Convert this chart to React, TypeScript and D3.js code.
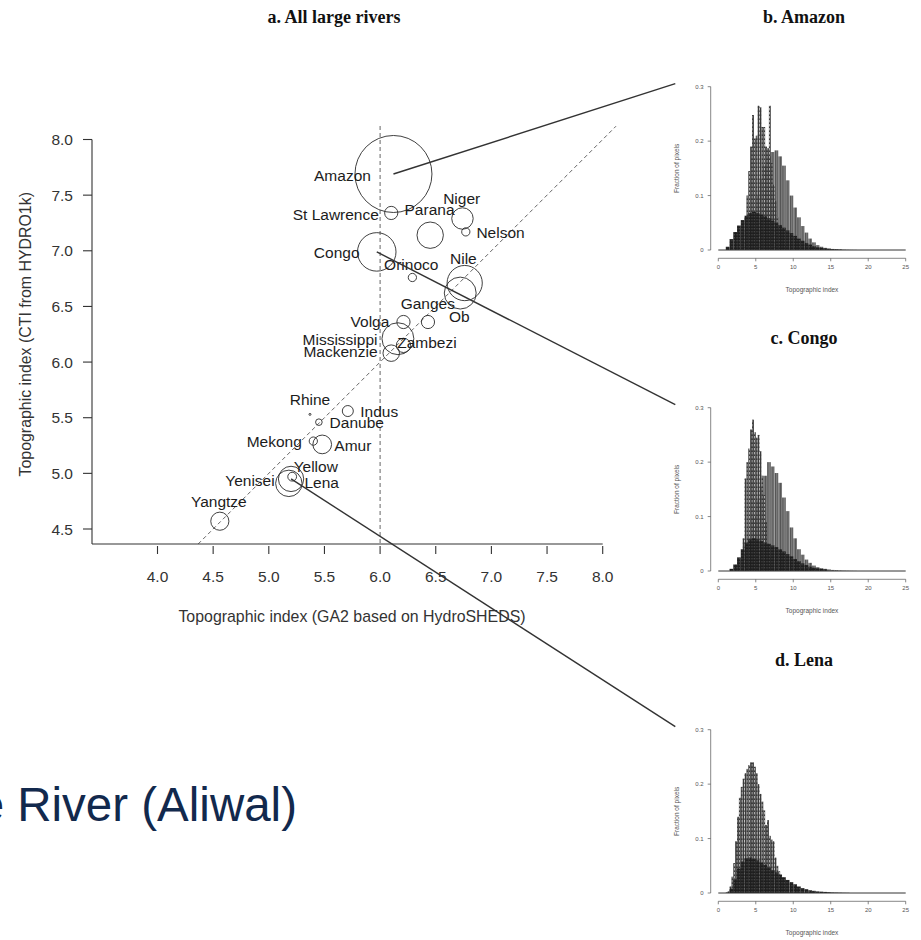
import React from 'react';
import * as d3 from 'd3';

const W = 921;
const H = 940;

// Large river basins: topographic index from two data sets, basin area (million km²)
const rivers = ['Amazon', 'St Lawrence', 'Parana', 'Niger', 'Nelson', 'Congo', 'Orinoco', 'Nile', 'Ob', 'Ganges', 'Volga', 'Mississippi', 'Zambezi', 'Mackenzie', 'Rhine', 'Indus', 'Danube', 'Mekong', 'Amur', 'Yellow', 'Yenisei', 'Lena', 'Yangtze'];
const ga2Index = [6.12, 6.1, 6.45, 6.74, 6.77, 5.97, 6.29, 6.76, 6.72, 6.43, 6.21, 6.16, 6.21, 6.1, 5.37, 5.71, 5.45, 5.4, 5.48, 5.21, 5.18, 5.2, 4.56];
const hydro1kIndex = [7.69, 7.34, 7.14, 7.29, 7.17, 6.99, 6.76, 6.71, 6.62, 6.36, 6.36, 6.21, 6.15, 6.08, 5.53, 5.56, 5.46, 5.29, 5.26, 4.97, 4.91, 4.95, 4.57];
const basinArea = [7.0, 1.2, 2.4, 1.95, 0.75, 3.5, 0.75, 3.2, 2.9, 1.2, 1.2, 2.9, 1.3, 1.5, 0.17, 1.0, 0.6, 0.75, 1.7, 0.8, 2.4, 2.3, 1.65];
// Label anchor points in data units
const labelX = [5.662, 5.602, 6.444, 6.733, 7.082, 5.61, 6.28, 6.748, 6.711, 6.429, 5.909, 5.64, 6.421, 5.644, 5.37, 5.992, 5.79, 5.049, 5.755, 5.422, 4.831, 5.475, 4.551];
const labelY = [7.681, 7.331, 7.373, 7.472, 7.163, 6.987, 6.879, 6.933, 6.408, 6.528, 6.363, 6.205, 6.174, 6.093, 5.66, 5.554, 5.456, 5.291, 5.249, 5.066, 4.934, 4.916, 4.746];

const xTickValues = [4.0, 4.5, 5.0, 5.5, 6.0, 6.5, 7.0, 7.5, 8.0];
const yTickValues = [4.5, 5.0, 5.5, 6.0, 6.5, 7.0, 7.5, 8.0];

// Rivers whose pixel distributions are shown as histograms
const detailRivers = ['Amazon', 'Congo', 'Lena'];
const detailTitles = ['b. Amazon', 'c. Congo', 'd. Lena'];

// Histograms: fraction of pixels per topographic-index bin
const fineStep = 0.25;
const coarseStep = 0.5;

const amazonPeakStart = 3.0;
const amazonPeak = [0.02, 0.035, 0.06, 0.1, 0.145, 0.19, 0.248, 0.205, 0.21, 0.265, 0.262, 0.226, 0.226, 0.19, 0.187, 0.265, 0.16, 0.12, 0.09, 0.06, 0.04, 0.025, 0.015, 0.008, 0.004];
const amazonMainStart = 3.5;
const amazonMain = [0.02, 0.04, 0.07, 0.1, 0.13, 0.155, 0.172, 0.18, 0.183, 0.172, 0.155, 0.128, 0.1, 0.078, 0.06, 0.044, 0.032, 0.021, 0.014, 0.009, 0.006, 0.004, 0.003, 0.002, 0.0015, 0.001, 0.0008, 0.0005, 0.0003, 0.0002];
const amazonBaseStart = 1.0;
const amazonBase = [0.006, 0.02, 0.033, 0.045, 0.055, 0.063, 0.068, 0.07, 0.068, 0.065, 0.062, 0.058, 0.054, 0.05, 0.046, 0.041, 0.036, 0.031, 0.026, 0.021, 0.017, 0.013, 0.01, 0.007, 0.005, 0.004, 0.003, 0.002, 0.0015, 0.001, 0.0007];

const congoPeakStart = 3.0;
const congoPeak = [0.02, 0.06, 0.17, 0.2, 0.225, 0.26, 0.278, 0.255, 0.245, 0.25, 0.22, 0.175, 0.14, 0.09, 0.05, 0.025, 0.01, 0.004];
const congoMainStart = 3.5;
const congoMain = [0.03, 0.06, 0.1, 0.13, 0.155, 0.175, 0.2, 0.192, 0.18, 0.162, 0.135, 0.11, 0.08, 0.06, 0.04, 0.03, 0.021, 0.015, 0.01, 0.007, 0.005, 0.004, 0.003, 0.002, 0.0015, 0.001, 0.0007, 0.0005, 0.0003, 0.0002];
const congoBaseStart = 1.5;
const congoBase = [0.004, 0.012, 0.025, 0.04, 0.052, 0.058, 0.06, 0.058, 0.055, 0.052, 0.05, 0.047, 0.044, 0.04, 0.036, 0.031, 0.027, 0.022, 0.018, 0.014, 0.011, 0.008, 0.006, 0.005, 0.004, 0.003];

const lenaPeakStart = 1.25;
const lenaPeak = [0.003, 0.012, 0.03, 0.055, 0.095, 0.14, 0.175, 0.195, 0.21, 0.22, 0.228, 0.235, 0.24, 0.24, 0.232, 0.22, 0.2, 0.182, 0.168, 0.152, 0.125, 0.134, 0.105, 0.098, 0.095, 0.065, 0.05, 0.04, 0.033, 0.028, 0.024, 0.02];
const lenaBaseStart = 1.0;
const lenaBase = [0.001, 0.008, 0.025, 0.045, 0.058, 0.064, 0.065, 0.063, 0.06, 0.056, 0.052, 0.047, 0.042, 0.038, 0.034, 0.029, 0.024, 0.02, 0.016, 0.012, 0.009, 0.007, 0.005, 0.004, 0.003, 0.0025, 0.002, 0.0015, 0.001, 0.0008, 0.0006, 0.0004, 0.0003];

const histXTicks = [0, 5, 10, 15, 20, 25];
const histYTicks = [0, 0.1, 0.2, 0.3];

const captionText = 'Orange River (Aliwal)';

const SANS = '"Liberation Sans", Arial, Helvetica, sans-serif';
const SERIF = '"Liberation Serif", "Times New Roman", serif';

type Layer = { start: number; step: number; values: number[]; fill: string };

const panelLayers: Layer[][] = [
  [
    { start: amazonMainStart, step: coarseStep, values: amazonMain, fill: 'url(#hatchMain)' },
    { start: amazonPeakStart, step: fineStep, values: amazonPeak, fill: 'url(#hatchPeak)' },
    { start: amazonBaseStart, step: coarseStep, values: amazonBase, fill: 'url(#hatchBase)' },
  ],
  [
    { start: congoMainStart, step: coarseStep, values: congoMain, fill: 'url(#hatchMain)' },
    { start: congoPeakStart, step: fineStep, values: congoPeak, fill: 'url(#hatchPeak)' },
    { start: congoBaseStart, step: coarseStep, values: congoBase, fill: 'url(#hatchBase)' },
  ],
  [
    { start: lenaPeakStart, step: fineStep, values: lenaPeak, fill: 'url(#hatchPeak)' },
    { start: lenaBaseStart, step: coarseStep, values: lenaBase, fill: 'url(#hatchBase)' },
  ],
];

const panelOffsets = [0, 321, 643];

function HistPanel({ offset, title, layers }: { offset: number; title: string; layers: Layer[] }) {
  const hx = d3.scaleLinear().domain([0, 25]).range([718.3, 905.7]);
  const hy = d3.scaleLinear().domain([0, 0.3]).range([250 + offset, 86.7 + offset]);
  const axisY = hy(0) + 8.3;
  const axisX = 710.7;
  const grey = '#555';
  return (
    <g>
      <text x={804} y={23 + offset} textAnchor="middle" fontFamily={SERIF} fontWeight="bold" fontSize={18} fill="#111">
        {title}
      </text>
      {layers.map((layer, li) => (
        <g key={li}>
          {layer.values.map((v, i) => {
            const x0 = hx(layer.start + i * layer.step);
            const x1 = hx(layer.start + (i + 1) * layer.step);
            return <rect key={i} x={x0} y={hy(v)} width={x1 - x0} height={hy(0) - hy(v)} fill={layer.fill} />;
          })}
        </g>
      ))}
      <line x1={hx(0)} x2={hx(25)} y1={hy(0)} y2={hy(0)} stroke="#333" strokeWidth={1} />
      {/* y axis */}
      <line x1={axisX} x2={axisX} y1={hy(0)} y2={hy(0.3)} stroke={grey} strokeWidth={0.7} />
      {histYTicks.map((t) => (
        <g key={t}>
          <line x1={axisX - 3} x2={axisX} y1={hy(t)} y2={hy(t)} stroke={grey} strokeWidth={0.7} />
          <text x={axisX - 7} y={hy(t)} dy="0.35em" textAnchor="end" fontFamily={SANS} fontSize={6} fill={grey}>
            {t === 0 ? '0' : t.toFixed(1)}
          </text>
        </g>
      ))}
      <text transform={`translate(${676.7},${hy(0.15)}) rotate(-90)`} textAnchor="middle" dy="0.35em" fontFamily={SANS} fontSize={6.5} fill={grey}>
        Fraction of pixels
      </text>
      {/* x axis */}
      <line x1={hx(0)} x2={hx(25)} y1={axisY} y2={axisY} stroke={grey} strokeWidth={0.7} />
      {histXTicks.map((t) => (
        <g key={t}>
          <line x1={hx(t)} x2={hx(t)} y1={axisY} y2={axisY + 3} stroke={grey} strokeWidth={0.7} />
          <text x={hx(t)} y={axisY + 9} dy="0.35em" textAnchor="middle" fontFamily={SANS} fontSize={6} fill={grey}>
            {t}
          </text>
        </g>
      ))}
      <text x={hx(12.5)} y={hy(0) + 40} dy="0.35em" textAnchor="middle" fontFamily={SANS} fontSize={6.5} fill={grey}>
        Topographic index
      </text>
    </g>
  );
}

export default function App() {
  const x = d3.scaleLinear().domain([4, 8]).range([157.5, 602.7]);
  const y = d3.scaleLinear().domain([4.5, 8]).range([529, 139.5]);
  const r = d3.scaleLinear().domain([0, 7]).range([0, 38.5]);

  const plotLeft = 92;
  const plotRight = 616;
  const plotTop = 126;
  const plotBottom = 544;

  const diagStart = Math.max(x.invert(plotLeft), y.invert(plotBottom));
  const diagEnd = Math.min(x.invert(plotRight), y.invert(plotTop));

  const ink = '#1c1c1c';
  const fontSize = 15.5;

  const hx0 = 718.3;
  const leaderEnds = panelOffsets.map((off) => [hx0 - 43, 86.7 + off - 3]);

  return (
    <svg width={W} height={H} viewBox={`0 0 ${W} ${H}`} style={{ position: 'absolute', left: 0, top: 0, background: '#fff' }}>
      <defs>
        <pattern id="hatchPeak" width={2.5} height={4} patternUnits="userSpaceOnUse">
          <rect width={2.5} height={4} fill="#3a3a3a" />
          <rect x={1.7} y={0} width={0.8} height={2.4} fill="#bdbdbd" />
        </pattern>
        <pattern id="hatchMain" width={2.5} height={4} patternUnits="userSpaceOnUse">
          <rect width={2.5} height={4} fill="#7a7a7a" />
          <rect x={0} y={0} width={0.7} height={4} fill="#4a4a4a" />
        </pattern>
        <pattern id="hatchBase" width={2.5} height={3} patternUnits="userSpaceOnUse">
          <rect width={2.5} height={3} fill="#1e1e1e" />
          <rect x={1.5} y={0} width={0.6} height={1.4} fill="#6a6a6a" />
        </pattern>
      </defs>
      <rect width={W} height={H} fill="#fff" />

      {/* panel a */}
      <text x={334} y={23} textAnchor="middle" fontFamily={SERIF} fontWeight="bold" fontSize={18} fill="#111">
        a. All large rivers
      </text>

      <line x1={x(6)} x2={x(6)} y1={plotTop} y2={plotBottom} stroke="#555" strokeWidth={0.9} strokeDasharray="4,3" />
      <line x1={x(diagStart)} y1={y(diagStart)} x2={x(diagEnd)} y2={y(diagEnd)} stroke="#555" strokeWidth={0.9} strokeDasharray="4,3" />

      {/* axes */}
      <line x1={plotLeft} x2={plotLeft} y1={y(8)} y2={plotBottom} stroke="#333" strokeWidth={1.1} />
      <line x1={plotLeft} x2={x(8)} y1={plotBottom} y2={plotBottom} stroke="#333" strokeWidth={1.1} />
      {yTickValues.map((t) => (
        <g key={t}>
          <line x1={plotLeft - 9} x2={plotLeft} y1={y(t)} y2={y(t)} stroke="#333" strokeWidth={1.1} />
          <text x={73} y={y(t)} dy="0.36em" textAnchor="end" fontFamily={SANS} fontSize={fontSize} fill="#333">
            {t.toFixed(1)}
          </text>
        </g>
      ))}
      {xTickValues.map((t) => (
        <g key={t}>
          <line x1={x(t)} x2={x(t)} y1={plotBottom + 2} y2={plotBottom + 10} stroke="#333" strokeWidth={1.1} />
          <text x={x(t)} y={576} dy="0.36em" textAnchor="middle" fontFamily={SANS} fontSize={fontSize} fill="#333">
            {t.toFixed(1)}
          </text>
        </g>
      ))}
      <text x={352} y={616} dy="0.36em" textAnchor="middle" fontFamily={SANS} fontSize={15.9} fill="#333">
        Topographic index (GA2 based on HydroSHEDS)
      </text>
      <text transform={`translate(25,${(y(8) + y(4.5)) / 2}) rotate(-90)`} dy="0.36em" textAnchor="middle" fontFamily={SANS} fontSize={15.9} fill="#333">
        Topographic index (CTI from HYDRO1k)
      </text>

      {/* basins */}
      {rivers.map((name, i) => (
        <circle key={name} cx={x(ga2Index[i])} cy={y(hydro1kIndex[i])} r={Math.max(1, r(basinArea[i]))} fill="none" stroke="#2a2a2a" strokeWidth={0.9} />
      ))}
      {rivers.map((name, i) => (
        <text key={name} x={x(labelX[i])} y={y(labelY[i])} dy="0.36em" textAnchor="middle" fontFamily={SANS} fontSize={fontSize} fill={ink}>
          {name}
        </text>
      ))}

      {/* leader lines to the histogram panels */}
      {detailRivers.map((name, k) => {
        const i = rivers.indexOf(name);
        return (
          <line key={name} x1={x(ga2Index[i])} y1={y(hydro1kIndex[i])} x2={leaderEnds[k][0]} y2={leaderEnds[k][1]} stroke="#333" strokeWidth={1.4} />
        );
      })}

      {panelOffsets.map((off, k) => (
        <HistPanel key={k} offset={off} title={detailTitles[k]} layers={panelLayers[k]} />
      ))}

      <text x={297} y={821} textAnchor="end" fontFamily={SANS} fontSize={47.5} fill="#12294d">
        {captionText}
      </text>
    </svg>
  );
}
